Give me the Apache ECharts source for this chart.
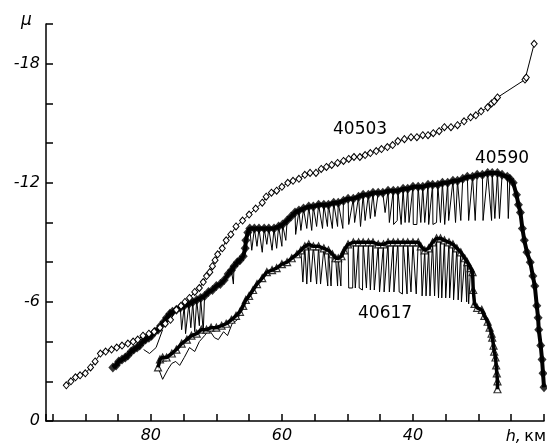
<!DOCTYPE html>
<html>
<head>
<meta charset="utf-8">
<script src="https://cdn.jsdelivr.net/npm/echarts@6/dist/echarts.min.js"></script>
<style>
html,body{margin:0;padding:0;background:#fff;}
#chart{width:547px;height:445px;}
</style>
</head>
<body>
<div id="chart"></div>
<script>
// Tick labels
const xTickLabels = [80, 60, 40];
const yTickLabels = [0, -6, -12, -18];
const seriesNames = ['40503', '40590', '40617'];

// 40503: [h (km), mu]
const s40503 = [[92.9,-1.8],[92.2,-2.0],[91.5,-2.2],[90.8,-2.3],[90.0,-2.4],[89.2,-2.7],[88.5,-3.0],[87.7,-3.4],[86.9,-3.5],[86.0,-3.6],[85.2,-3.7],[84.4,-3.8],[83.5,-3.9],[82.7,-4.0],[82.0,-4.1],[81.2,-4.3],[80.3,-4.4],[79.5,-4.5],[78.6,-4.7],[77.8,-4.9],[77.0,-5.1],[76.1,-5.6],[75.4,-5.8],[74.8,-6.0],[74.1,-6.2],[73.3,-6.5],[72.6,-6.7],[72.0,-7.0],[71.5,-7.3],[71.0,-7.5],[70.6,-7.8],[70.2,-8.1],[69.8,-8.4],[69.1,-8.7],[68.5,-9.1],[67.8,-9.4],[67.0,-9.8],[66.0,-10.1],[65.0,-10.4],[64.0,-10.7],[63.0,-11.0],[62.4,-11.3],[61.6,-11.5],[60.8,-11.6],[60.0,-11.8],[59.1,-12.0],[58.3,-12.1],[57.4,-12.2],[56.5,-12.4],[55.7,-12.5],[54.8,-12.5],[54.0,-12.7],[53.2,-12.8],[52.4,-12.9],[51.5,-13.0],[50.6,-13.1],[49.8,-13.2],[49.0,-13.3],[48.1,-13.3],[47.3,-13.4],[46.5,-13.5],[45.6,-13.6],[44.8,-13.7],[43.9,-13.8],[43.1,-13.9],[42.3,-14.1],[41.3,-14.2],[40.3,-14.3],[39.4,-14.3],[38.5,-14.4],[37.7,-14.4],[36.9,-14.5],[36.0,-14.6],[35.2,-14.8],[34.2,-14.8],[33.2,-14.9],[32.2,-15.1],[31.2,-15.3],[30.4,-15.4],[29.6,-15.6],[28.6,-15.8],[28.0,-16.0],[27.6,-16.1],[27.1,-16.3],[22.9,-17.2],[22.7,-17.3],[21.5,-19.0]];

// 40590: upper envelope (marked points), downward spikes, separate thin trace
const upper40590 = [[85.8,-2.7],[85.3,-2.8],[84.9,-3.0],[84.4,-3.1],[83.9,-3.2],[83.5,-3.3],[83.0,-3.5],[82.6,-3.6],[82.1,-3.7],[81.7,-3.8],[81.2,-4.0],[80.8,-4.1],[80.3,-4.2],[79.9,-4.3],[79.4,-4.5],[78.9,-4.6],[78.5,-4.8],[78.0,-5.0],[77.6,-5.2],[77.1,-5.4],[76.7,-5.5],[76.1,-5.6],[75.5,-5.7],[74.9,-5.8],[74.2,-5.9],[73.6,-6.0],[73.0,-6.1],[72.4,-6.2],[71.8,-6.3],[71.2,-6.5],[70.6,-6.6],[70.0,-6.8],[69.4,-6.9],[68.8,-7.1],[68.2,-7.4],[67.7,-7.6],[67.3,-7.8],[66.8,-8.0],[66.4,-8.1],[65.9,-8.3],[65.6,-8.7],[65.5,-9.1],[65.2,-9.5],[64.9,-9.7],[64.2,-9.7],[63.5,-9.7],[62.7,-9.7],[62.0,-9.7],[61.2,-9.7],[60.5,-9.8],[59.9,-9.9],[59.2,-10.1],[58.6,-10.3],[58.0,-10.5],[57.4,-10.6],[56.7,-10.7],[55.9,-10.8],[55.2,-10.8],[54.4,-10.9],[53.6,-10.9],[52.9,-10.9],[52.1,-11.0],[51.4,-11.0],[50.6,-11.1],[49.9,-11.2],[49.1,-11.2],[48.3,-11.3],[47.6,-11.4],[46.8,-11.4],[46.1,-11.5],[45.3,-11.5],[44.6,-11.5],[43.8,-11.6],[43.0,-11.6],[42.3,-11.6],[41.5,-11.7],[40.8,-11.7],[40.0,-11.8],[39.2,-11.8],[38.5,-11.8],[37.7,-11.9],[37.0,-11.9],[36.2,-11.9],[35.5,-12.0],[34.7,-12.0],[33.9,-12.1],[33.2,-12.1],[32.4,-12.2],[31.7,-12.3],[30.9,-12.3],[30.2,-12.4],[29.4,-12.4],[28.6,-12.5],[27.9,-12.5],[27.1,-12.5],[26.4,-12.4],[25.6,-12.3],[25.2,-12.2],[24.7,-12.0],[24.2,-11.4],[23.9,-10.9],[23.6,-10.5],[23.3,-9.7],[23.0,-9.1],[22.6,-8.5],[22.1,-8.0],[21.7,-7.3],[21.4,-6.8],[21.1,-5.8],[20.9,-5.2],[20.8,-4.6],[20.5,-3.8],[20.3,-3.1],[20.15,-2.4],[20.0,-1.7]];
const dips40590 = [[75.3,-4.6],[74.7,-4.4],[73.9,-4.7],[73.3,-4.5],[72.6,-4.8],[72.0,-4.5],[67.4,-6.9],[64.6,-8.6],[63.8,-8.8],[63.0,-8.5],[62.3,-8.9],[61.5,-8.6],[60.8,-8.7],[60.0,-8.8],[59.4,-9.1],[57.9,-9.4],[57.1,-9.6],[56.2,-9.7],[55.45,-9.6],[54.7,-9.8],[53.8,-9.7],[53.05,-9.8],[52.3,-9.7],[51.5,-9.8],[50.7,-9.7],[49.8,-9.9],[48.9,-10.0],[48.0,-9.8],[47.3,-10.1],[46.5,-10.2],[45.8,-10.3],[44.25,-10.5],[43.6,-10.0],[42.95,-9.9],[42.4,-10.1],[41.8,-9.9],[41.2,-10.0],[40.6,-10.0],[39.95,-9.9],[39.4,-9.9],[38.8,-10.0],[38.2,-10.0],[37.6,-9.9],[36.95,-9.9],[36.4,-10.0],[35.8,-10.0],[35.15,-9.9],[34.55,-10.1],[33.5,-10.0],[32.7,-10.1],[31.5,-10.1],[30.5,-10.1],[29.3,-10.1],[28.0,-10.1],[27.5,-10.2],[26.8,-10.2],[25.45,-10.2]];
const trace40590 = [[78.2,-4.6],[79.2,-3.7],[80.2,-3.4],[81.1,-3.6]];

// 40617: upper envelope (marked points), downward spikes, separate thin trace
const upper40617 = [[78.9,-2.7],[78.6,-3.1],[78.2,-3.2],[77.6,-3.2],[76.8,-3.4],[76.1,-3.6],[75.3,-3.9],[74.5,-4.1],[73.8,-4.3],[73.0,-4.4],[72.3,-4.6],[71.5,-4.6],[70.8,-4.7],[70.0,-4.7],[69.2,-4.8],[68.5,-4.9],[67.7,-5.1],[67.0,-5.3],[66.4,-5.5],[65.9,-5.8],[65.5,-6.1],[65.0,-6.3],[64.4,-6.6],[63.8,-6.9],[63.0,-7.2],[62.3,-7.5],[61.5,-7.6],[60.8,-7.7],[60.0,-7.9],[59.2,-8.0],[58.5,-8.2],[57.7,-8.4],[57.1,-8.6],[56.5,-8.8],[55.9,-8.9],[55.2,-8.8],[54.4,-8.8],[53.6,-8.7],[52.9,-8.6],[52.3,-8.4],[51.8,-8.2],[51.4,-8.2],[50.9,-8.3],[50.5,-8.6],[49.9,-8.9],[49.1,-9.0],[48.3,-9.0],[47.6,-9.0],[46.8,-9.0],[46.1,-9.0],[45.3,-8.9],[44.5,-8.9],[43.8,-9.0],[43.0,-9.0],[42.3,-9.0],[41.5,-9.0],[40.8,-9.0],[40.0,-9.0],[39.2,-9.0],[38.8,-8.8],[38.2,-8.6],[37.6,-8.7],[37.0,-9.0],[36.4,-9.2],[35.8,-9.2],[35.2,-9.1],[34.5,-9.0],[33.9,-8.9],[33.3,-8.7],[32.7,-8.5],[32.1,-8.2],[31.7,-8.0],[31.2,-7.7],[30.9,-7.5],[30.8,-6.6],[30.6,-5.9],[30.2,-5.7],[29.5,-5.6],[29.1,-5.3],[28.6,-5.0],[28.3,-4.7],[28.0,-4.4],[27.9,-4.2],[27.7,-3.8],[27.6,-3.5],[27.4,-3.2],[27.3,-2.8],[27.2,-2.4],[27.1,-2.0],[27.1,-1.6]];
const dips40617 = [[56.8,-7.0],[56.2,-6.9],[55.6,-7.0],[54.7,-6.9],[54.1,-6.9],[53.0,-6.8],[52.5,-6.8],[51.5,-6.8],[51.0,-6.8],[49.8,-6.7],[49.2,-6.7],[48.8,-6.7],[48.2,-6.7],[47.7,-6.6],[47.1,-6.7],[46.5,-6.6],[45.9,-6.6],[45.1,-6.5],[44.4,-6.5],[43.6,-6.5],[42.9,-6.5],[42.1,-6.5],[41.6,-6.4],[40.9,-6.4],[40.3,-6.5],[39.5,-6.4],[38.6,-6.3],[38.0,-6.3],[37.4,-6.3],[36.7,-6.3],[36.1,-6.2],[35.6,-6.2],[35.0,-6.2],[34.4,-6.2],[33.8,-6.1],[33.1,-6.1],[32.6,-6.0],[32.3,-6.0],[31.8,-6.0],[31.5,-5.9]];
const trace40617 = [[78.9,-2.7],[78.2,-2.1],[77.4,-2.6],[76.8,-2.9],[76.2,-3.0],[75.6,-2.8],[74.9,-3.2],[74.1,-3.7],[73.3,-3.5],[72.6,-4.0],[71.8,-4.3],[71.1,-4.6],[70.3,-4.2],[69.7,-4.1],[68.9,-4.5],[68.3,-4.3],[67.6,-4.9],[66.8,-5.1],[66.1,-5.6],[65.5,-6.0]];

function mergePath(upper, dips) {
  return upper.concat(dips).sort((a, b) => b[0] - a[0]);
}

const chart = echarts.init(document.getElementById('chart'), null, {renderer: 'canvas'});
const FONT = 'DejaVu Sans';
const thin = {color: '#000', width: 1};

chart.setOption({
  animation: false,
  backgroundColor: '#fff',
  grid: {left: 46, right: 1, top: 24, bottom: 24, containLabel: false},
  xAxis: {
    type: 'value', min: 20, max: 96, interval: 5, inverse: true,
    axisLine: {show: true, onZero: false, lineStyle: {color: '#000', width: 1.5}},
    axisTick: {show: true, inside: true, length: 7, lineStyle: {color: '#000', width: 1.5}},
    splitLine: {show: false},
    axisLabel: {
      margin: 7, color: '#000', fontSize: 16, fontStyle: 'italic', fontFamily: FONT,
      formatter: v => xTickLabels.includes(v) ? String(v) : ''
    }
  },
  yAxis: {
    type: 'value', min: -20, max: 0, interval: 2, inverse: true,
    axisLine: {show: true, onZero: false, lineStyle: {color: '#000', width: 1.5}},
    axisTick: {show: true, inside: true, length: 7, lineStyle: {color: '#000', width: 1.5}},
    splitLine: {show: false},
    axisLabel: {
      margin: 6, color: '#000', fontSize: 16, fontStyle: 'italic', fontFamily: FONT,
      formatter: v => yTickLabels.includes(v) ? String(v) : ''
    }
  },
  series: [
    {type: 'line', data: mergePath(upper40590, dips40590), showSymbol: false, lineStyle: thin, z: 2},
    {type: 'line', data: trace40590, showSymbol: false, lineStyle: thin, z: 2},
    {type: 'line', data: upper40590, showSymbol: false, lineStyle: {color: '#000', width: 4}, z: 3},
    {type: 'scatter', data: upper40590, symbol: 'diamond', symbolSize: [9, 10], itemStyle: {color: '#000'}, z: 3},
    {type: 'line', data: mergePath(upper40617, dips40617), showSymbol: false, lineStyle: thin, z: 2},
    {type: 'line', data: trace40617, showSymbol: false, lineStyle: thin, z: 2},
    {type: 'scatter', data: upper40617, symbol: 'triangle', symbolSize: 7, itemStyle: {color: '#fff', borderColor: '#000', borderWidth: 1.2}, z: 3},
    {type: 'line', data: upper40617, showSymbol: false, lineStyle: {color: '#000', width: 3.5}, z: 4},
    {type: 'line', data: s40503, symbol: 'diamond', symbolSize: [6, 7], showSymbol: true,
     itemStyle: {color: '#fff', borderColor: '#000', borderWidth: 1}, lineStyle: thin, z: 5}
  ],
  graphic: [
    {type: 'text', x: 21, y: 21, style: {text: 'μ', font: 'italic 17px "DejaVu Sans"', fill: '#000', align: 'left', verticalAlign: 'middle'}},
    {type: 'text', x: 333, y: 130, style: {text: seriesNames[0], font: '17px "DejaVu Sans"', fill: '#000', align: 'left', verticalAlign: 'middle'}},
    {type: 'text', x: 475, y: 158.5, style: {text: seriesNames[1], font: '17px "DejaVu Sans"', fill: '#000', align: 'left', verticalAlign: 'middle'}},
    {type: 'text', x: 358, y: 314, style: {text: seriesNames[2], font: '17px "DejaVu Sans"', fill: '#000', align: 'left', verticalAlign: 'middle'}},
    {type: 'text', x: 546, y: 437, style: {
      text: '{a|h,} {b|км}', align: 'right', verticalAlign: 'middle', fill: '#000',
      rich: {a: {font: 'italic 16px "DejaVu Sans"', fill: '#000'}, b: {font: '16px "DejaVu Sans"', fill: '#000'}}
    }}
  ]
});
</script>
</body>
</html>
